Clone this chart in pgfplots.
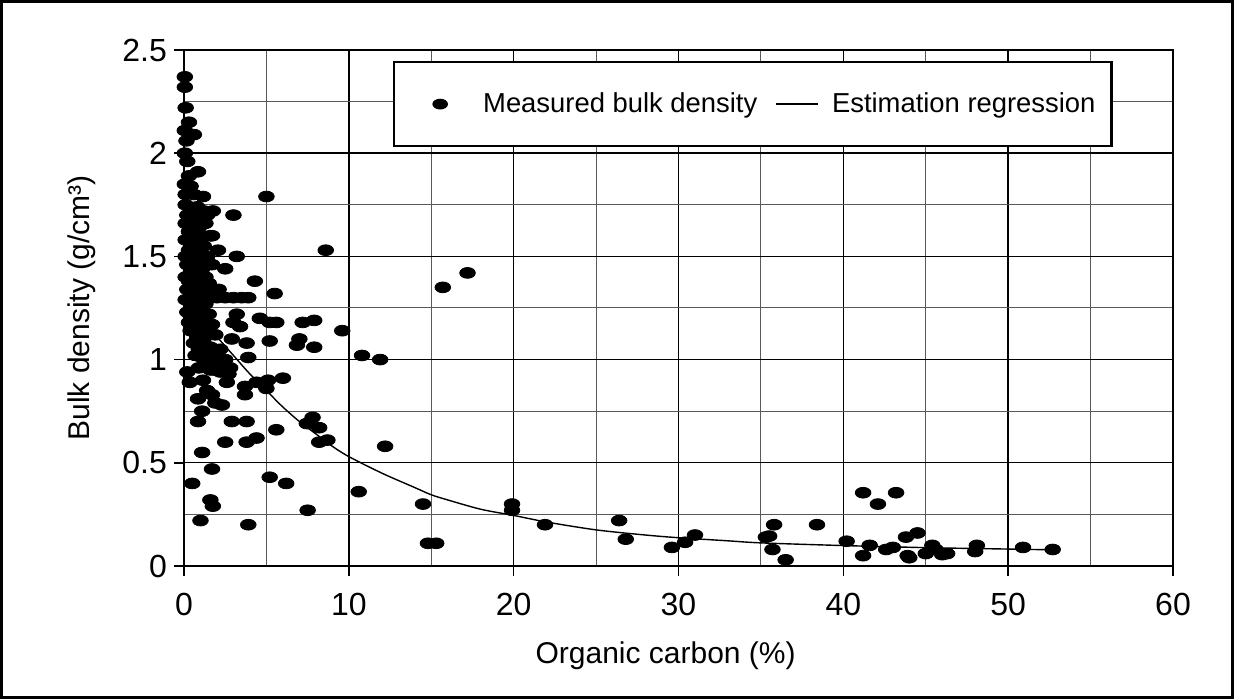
\documentclass[border=0pt]{standalone}
\usepackage{fontspec}
\setmainfont{Liberation Sans}
\usepackage{pgfplots}
\pgfplotsset{compat=1.18}
\begin{document}
\begin{tikzpicture}
\begin{axis}[name=ax,
  scale only axis, width=494.5pt, height=258pt,
  xmin=0, xmax=60, ymin=0, ymax=2.5,
  xtick={0,10,20,30,40,50,60},
  ytick={0,0.5,1,1.5,2,2.5},
  yticklabels={0,0.5,1,1.5,2,2.5},
  minor xtick={5,15,25,35,45,55},
  minor ytick={0.25,0.75,1.25,1.75,2.25},
  grid=both,
  major grid style={black, line width=0.7pt},
  minor grid style={black!65, line width=0.5pt},
  tick align=outside, tick pos=left,
  major tick length=5pt, minor tick length=0pt,
  tick style={black, line width=0.8pt},
  axis line style={line width=1pt},
  /pgf/number format/assume math mode=true,
  tick label style={font=\fontsize{16}{19}\selectfont},
  xticklabel style={yshift=-5pt},
  label style={font=\fontsize{15}{18}\selectfont},
  xlabel={Organic carbon (\%)},
  ylabel={Bulk density (g/cm³)},
  xlabel style={at={(axis description cs:0.487,-0.174)}, anchor=center},
  ylabel style={at={(axis description cs:-0.103,0.5)}, anchor=center},
  legend columns=2,
  legend style={at={(0.2113,0.9787)}, anchor=north west, draw=black, line width=1.2pt, fill=white,
    font=\fontsize{13.7}{16.5}\selectfont, inner xsep=6pt, inner ysep=13.25pt,
    /tikz/every even column/.append style={column sep=7pt}},
]
\addplot[only marks, mark=*, mark size=2.7pt, mark options={xscale=1.45, fill=black, draw=black, line width=0.4pt},
  legend image code/.code={\path[draw=none] (0pt,0pt) -- (36.5pt,0pt); \fill[black, draw=none] (17pt,0pt) ellipse [x radius=3.9pt, y radius=2.7pt];}] table {
x y
0.05 2.37
0.05 2.32
0.1 2.22
0.3 2.15
0.05 2.11
0.6 2.09
0.15 2.06
0.05 2.00
0.2 1.96
0.85 1.91
0.3 1.89
0.05 1.85
0.4 1.84
0.1 1.80
1.15 1.79
0.6 1.80
5.0 1.79
0.1 1.75
0.4 1.73
0.8 1.74
1.2 1.72
0.2 1.70
0.6 1.69
1.0 1.70
1.4 1.70
0.1 1.66
0.5 1.65
0.9 1.64
1.3 1.66
0.3 1.62
0.7 1.61
1.1 1.60
1.6 1.60
0.1 1.58
0.5 1.57
0.9 1.56
1.2 1.55
0.3 1.53
0.8 1.52
0.1 1.50
0.6 1.49
1.0 1.48
1.4 1.50
0.2 1.46
0.7 1.45
1.1 1.44
0.4 1.42
0.9 1.41
1.3 1.40
0.1 1.40
0.3 1.38
0.6 1.37
1.0 1.36
1.5 1.37
0.2 1.34
0.8 1.33
1.2 1.33
0.5 1.31
1.6 1.30
0.1 1.29
0.9 1.29
1.3 1.27
0.4 1.27
0.7 1.25
0.2 1.23
1.1 1.24
1.5 1.22
0.5 1.21
0.9 1.20
0.3 1.18
1.3 1.18
0.7 1.16
1.7 1.17
1.0 1.14
0.4 1.14
1.4 1.12
0.8 1.11
1.9 1.12
0.6 1.08
1.2 1.08
1.6 1.06
0.9 1.05
1.4 1.03
2.2 1.05
1.1 1.01
0.7 1.02
1.8 1.00
2.5 1.00
2.0 1.00
1.3 0.98
2.0 0.97
0.9 0.96
1.6 0.95
1.75 1.72
3.0 1.70
1.7 1.60
2.06 1.53
3.2 1.50
1.7 1.46
2.5 1.44
4.3 1.38
8.6 1.53
15.7 1.35
17.2 1.42
2.1 1.34
2.0 1.30
2.5 1.30
3.0 1.30
3.5 1.30
3.9 1.30
5.5 1.32
3.2 1.22
4.6 1.20
3.0 1.18
3.4 1.16
5.2 1.18
5.6 1.18
7.2 1.18
7.9 1.19
9.6 1.14
7.0 1.10
6.85 1.07
7.9 1.06
2.9 1.10
3.8 1.08
5.2 1.09
3.9 1.01
10.8 1.02
11.9 1.00
0.2 0.94
0.35 0.89
1.15 0.90
1.8 0.95
2.2 0.94
2.8 0.96
2.7 0.93
2.6 0.89
3.7 0.87
3.7 0.83
4.4 0.89
5.1 0.90
5.0 0.86
6.0 0.91
0.85 0.81
1.4 0.85
1.7 0.83
1.9 0.79
2.3 0.78
1.1 0.75
0.85 0.70
2.9 0.70
3.8 0.70
5.6 0.66
7.8 0.72
7.45 0.69
8.2 0.67
8.2 0.60
8.7 0.61
4.4 0.62
3.8 0.60
2.5 0.60
12.2 0.58
1.1 0.55
1.7 0.47
0.5 0.40
5.2 0.43
6.2 0.40
1.6 0.32
1.75 0.29
7.5 0.27
1.0 0.22
3.9 0.20
10.6 0.36
14.5 0.30
14.8 0.11
15.3 0.11
19.9 0.30
19.9 0.27
21.9 0.20
26.4 0.22
26.8 0.13
29.6 0.09
30.4 0.115
31.0 0.15
35.8 0.20
35.5 0.145
35.3 0.14
35.7 0.08
36.5 0.03
38.4 0.20
40.2 0.12
41.2 0.355
43.2 0.355
42.1 0.30
41.6 0.10
41.2 0.05
42.6 0.08
43.0 0.09
43.8 0.14
44.5 0.16
43.9 0.05
44.0 0.04
45.4 0.10
45.6 0.08
45.0 0.06
46.0 0.055
46.3 0.06
48.1 0.10
48.0 0.07
50.9 0.09
52.7 0.08
};
\addlegendentry{Measured bulk density}
\addplot[black, line width=0.7pt, smooth, no markers,
  legend image code/.code={\draw[black, line width=0.7pt] (0pt,0pt) -- (21pt,0pt); \path[draw=none] (26pt,0pt);}] coordinates {
(2,1.11) (3,1.02) (4,0.93) (5,0.85) (6,0.77) (7,0.70) (8,0.64) (9,0.58) (10,0.53)
(12,0.45) (14,0.38) (15,0.345) (16,0.32) (18,0.275) (20,0.245) (22,0.213) (25,0.175)
(28,0.15) (30,0.137) (33,0.122) (35,0.112) (40,0.099) (45,0.089) (50,0.082) (53,0.078)
};
\addlegendentry{Estimation regression}
\end{axis}
\draw[line width=1.5pt] ([xshift=-91.25pt,yshift=-65.75pt]ax.south west) rectangle ([xshift=29.75pt,yshift=24.25pt]ax.north east);
\end{tikzpicture}
\end{document}
